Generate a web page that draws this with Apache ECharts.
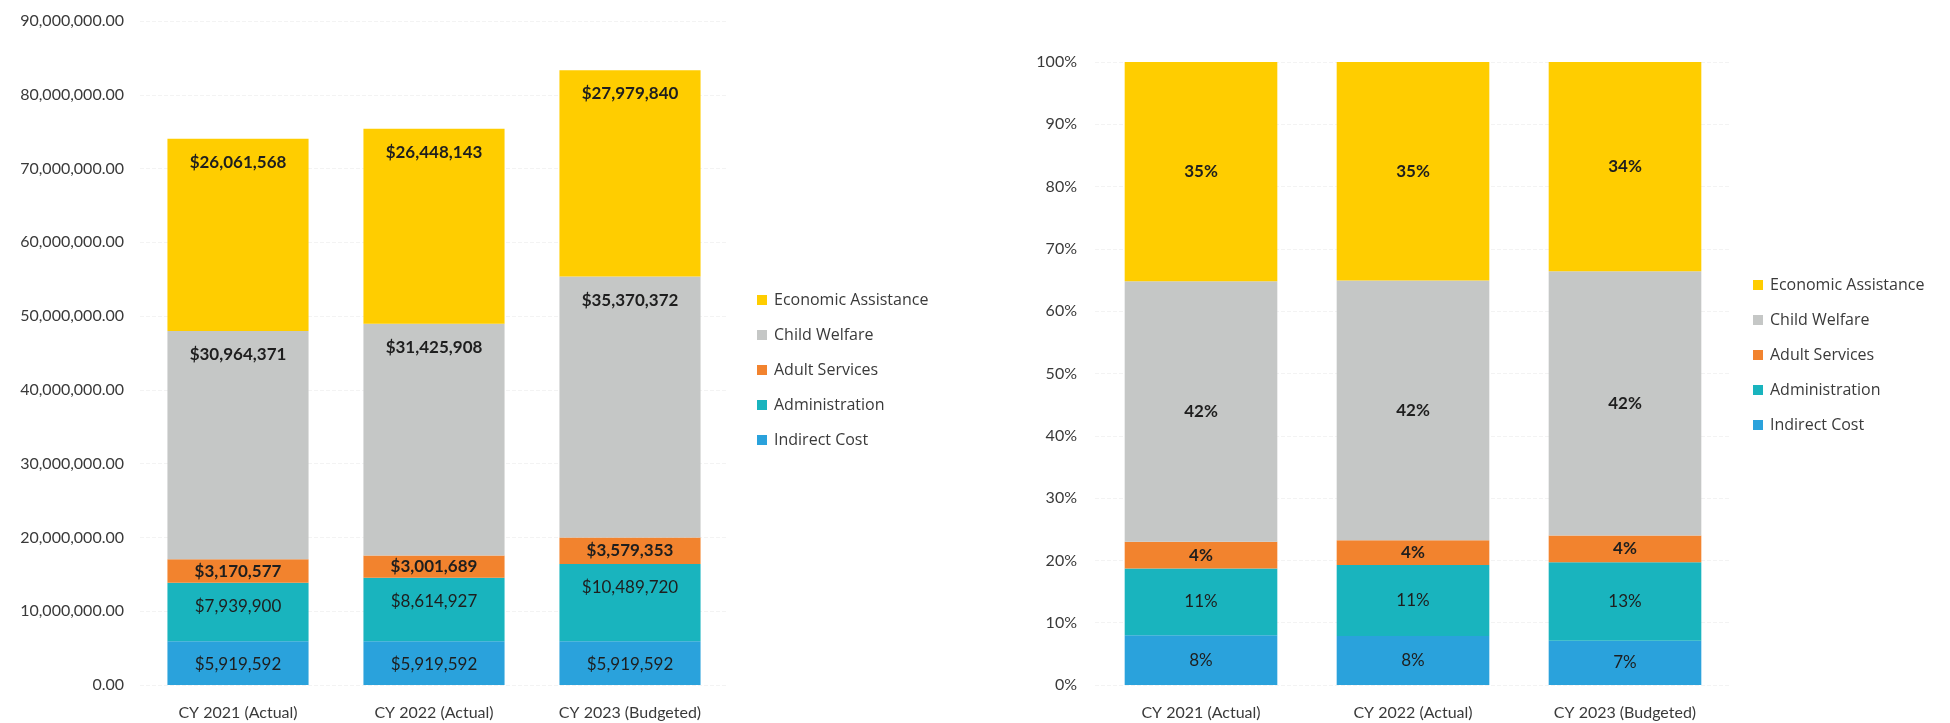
<!DOCTYPE html>
<html>
<head>
<meta charset="utf-8">
<script src="https://cdn.jsdelivr.net/npm/echarts@6/dist/echarts.min.js"></script>
<style>
    html, body { margin: 0; padding: 0; background: #fff; }
    #chart { width: 1950px; height: 723px; }
</style>
</head>
<body>
<div id="chart"></div>
<script>
// categories
const years = ['CY 2021 (Actual)', 'CY 2022 (Actual)', 'CY 2023 (Budgeted)'];
// series values in dollars (bottom to top)
const indirectCost = [5919592, 5919592, 5919592];
const administration = [7939900, 8614927, 10489720];
const adultServices = [3170577, 3001689, 3579353];
const childWelfare = [30964371, 31425908, 35370372];
const economicAssistance = [26061568, 26448143, 27979840];
// tick settings
const dollarMax = 90000000;
const dollarStep = 10000000;
const pctMax = 100;
const pctStep = 10;

const names = ['Indirect Cost', 'Administration', 'Adult Services', 'Child Welfare', 'Economic Assistance'];
const values = [indirectCost, administration, adultServices, childWelfare, economicAssistance];
const colors = ['#2AA2DC', '#19B4BE', '#F2832E', '#C5C7C6', '#FFCD00'];
const bold = [false, false, true, true, true];

// column totals for the 100% chart
const totals = years.map((_, i) => values.reduce((s, arr) => s + arr[i], 0));

const myChart = echarts.init(document.getElementById('chart'));
const font = 'Lato';
const textColor = '#3a3a3a';

const series = [];
names.forEach((name, k) => {
    // left: dollars
    series.push({
        name: name,
        type: 'bar',
        stack: 'dollars',
        xAxisIndex: 0,
        yAxisIndex: 0,
        barCategoryGap: '28%',
        itemStyle: { color: colors[k] },
        label: {
            show: true,
            position: name === 'Adult Services' ? 'inside' : 'insideTop',
            distance: 15,
            fontFamily: font,
            fontSize: 17,
            fontWeight: bold[k] ? 'bold' : 'normal',
            color: '#1e1e1e',
            formatter: p => '$' + p.value.toLocaleString('en-US')
        },
        data: values[k]
    });
});
names.forEach((name, k) => {
    // right: share of total
    series.push({
        name: name,
        type: 'bar',
        stack: 'share',
        xAxisIndex: 1,
        yAxisIndex: 1,
        barCategoryGap: '28%',
        itemStyle: { color: colors[k] },
        label: {
            show: true,
            position: 'inside',
            fontFamily: font,
            fontSize: 17,
            fontWeight: bold[k] ? 'bold' : 'normal',
            color: '#1e1e1e',
            formatter: p => Math.round(p.value) + '%'
        },
        data: values[k].map((v, i) => v / totals[i] * 100)
    });
});

const legendBase = {
    orient: 'vertical',
    itemWidth: 10,
    itemHeight: 10,
    itemGap: 17,
    icon: 'rect',
    data: names.slice().reverse(),
    textStyle: { fontFamily: 'Open Sans', fontSize: 16, color: textColor, lineHeight: 18, padding: [0, 0, 0, 2] }
};

const catAxis = {
    type: 'category',
    data: years,
    axisLine: { show: false },
    axisTick: { show: false },
    axisLabel: { fontFamily: font, fontSize: 16, color: textColor, margin: 20 }
};

const option = {
    backgroundColor: '#fff',
    animation: false,
    legend: [
        Object.assign({ left: 752, top: 286 }, legendBase),
        Object.assign({ left: 1748, top: 271 }, legendBase)
    ],
    grid: [
        { left: 140, width: 588, top: 21, bottom: 38 },
        { left: 1095, width: 636, top: 62, bottom: 38 }
    ],
    xAxis: [
        Object.assign({ gridIndex: 0 }, catAxis),
        Object.assign({ gridIndex: 1 }, catAxis)
    ],
    yAxis: [
        {
            gridIndex: 0,
            type: 'value',
            min: 0,
            max: dollarMax,
            interval: dollarStep,
            axisLine: { show: false },
            axisTick: { show: false },
            splitLine: { lineStyle: { color: '#f3f3f3', type: 'dashed' } },
            axisLabel: {
                fontFamily: font, fontSize: 16, color: textColor, margin: 16,
                formatter: v => v.toLocaleString('en-US', { minimumFractionDigits: 2, maximumFractionDigits: 2 })
            }
        },
        {
            gridIndex: 1,
            type: 'value',
            min: 0,
            max: pctMax,
            interval: pctStep,
            axisLine: { show: false },
            axisTick: { show: false },
            splitLine: { lineStyle: { color: '#f3f3f3', type: 'dashed' } },
            axisLabel: { fontFamily: font, fontSize: 16, color: textColor, margin: 18, formatter: '{value}%' }
        }
    ],
    series: series
};

myChart.setOption(option);
</script>
</body>
</html>
